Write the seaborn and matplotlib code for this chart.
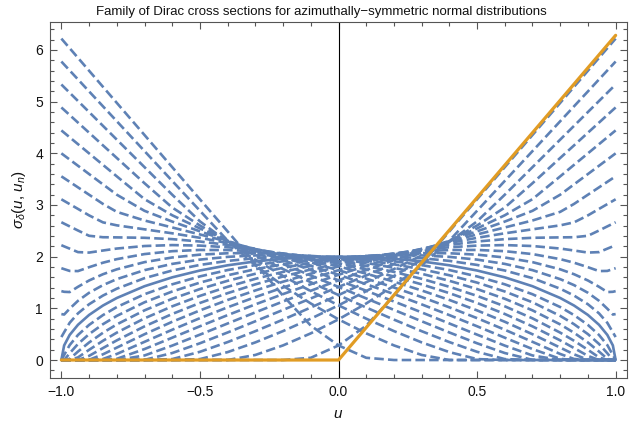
import numpy as np
import pandas as pd
import matplotlib
matplotlib.use("Agg")
import matplotlib.pyplot as plt
from matplotlib.ticker import MultipleLocator
import seaborn as sns

sns.set_theme(style="ticks")
plt.rcParams["font.family"] = ["Liberation Sans", "DejaVu Sans"]
plt.rcParams["mathtext.fontset"] = "custom"
plt.rcParams["mathtext.rm"] = "Liberation Sans"
plt.rcParams["mathtext.it"] = "Liberation Sans:italic"

# common u grid (denser towards the ends)
u = [-1, -0.99, -0.97, -0.94, -0.9, -0.85, -0.8, -0.7, -0.6, -0.5, -0.4, -0.3, -0.2, -0.1, 0,
     0.1, 0.2, 0.3, 0.4, 0.5, 0.6, 0.7, 0.8, 0.85, 0.9, 0.94, 0.97, 0.99, 1]

# dashed family, u_n > 0 (u_n = 0.071 ... 0.99)
sig_p1 = [0, 0.097, 0.289, 0.485, 0.679, 0.869, 1.025, 1.273, 1.465, 1.618, 1.741, 1.837, 1.911, 1.963, 1.995, 2.007, 1.999, 1.970, 1.918, 1.840, 1.732, 1.584, 1.380, 1.247, 1.079, 0.903, 0.720, 0.537, 0.444]
sig_p2 = [0, 0, 0.131, 0.311, 0.501, 0.693, 0.854, 1.117, 1.326, 1.498, 1.640, 1.757, 1.852, 1.926, 1.980, 2.015, 2.030, 2.024, 1.996, 1.943, 1.860, 1.739, 1.565, 1.449, 1.301, 1.146, 0.993, 0.880, 0.889]
sig_p3 = [0, 0, 0.022, 0.164, 0.339, 0.527, 0.689, 0.961, 1.185, 1.373, 1.533, 1.669, 1.784, 1.879, 1.954, 2.012, 2.050, 2.069, 2.066, 2.039, 1.984, 1.894, 1.755, 1.660, 1.539, 1.417, 1.315, 1.320, 1.333]
sig_p4 = [0, 0, 0, 0.051, 0.197, 0.372, 0.530, 0.806, 1.039, 1.241, 1.417, 1.571, 1.705, 1.821, 1.918, 1.998, 2.061, 2.104, 2.128, 2.130, 2.106, 2.050, 1.952, 1.883, 1.796, 1.721, 1.724, 1.759, 1.777]
sig_p5 = [0, 0, 0, 0, 0.080, 0.231, 0.380, 0.651, 0.891, 1.104, 1.294, 1.464, 1.616, 1.752, 1.871, 1.974, 2.061, 2.131, 2.182, 2.214, 2.224, 2.206, 2.157, 2.119, 2.079, 2.088, 2.155, 2.199, 2.222]
sig_p6 = [0, 0, 0, 0, 0.004, 0.110, 0.240, 0.499, 0.740, 0.960, 1.162, 1.346, 1.516, 1.671, 1.811, 1.937, 2.049, 2.146, 2.228, 2.293, 2.339, 2.365, 2.373, 2.376, 2.404, 2.506, 2.586, 2.639, 2.666]
sig_p7 = [0, 0, 0, 0, 0, 0.020, 0.117, 0.352, 0.586, 0.810, 1.020, 1.218, 1.403, 1.576, 1.738, 1.887, 2.025, 2.151, 2.264, 2.365, 2.452, 2.529, 2.606, 2.664, 2.799, 2.924, 3.017, 3.079, 3.110]
sig_p8 = [0, 0, 0, 0, 0, 0, 0.023, 0.212, 0.432, 0.653, 0.869, 1.077, 1.276, 1.467, 1.649, 1.823, 1.987, 2.143, 2.291, 2.430, 2.565, 2.700, 2.867, 3.021, 3.199, 3.341, 3.448, 3.519, 3.554]
sig_p9 = [0, 0, 0, 0, 0, 0, 0, 0.088, 0.279, 0.491, 0.707, 0.922, 1.133, 1.340, 1.543, 1.740, 1.933, 2.121, 2.306, 2.490, 2.679, 2.887, 3.199, 3.399, 3.599, 3.759, 3.879, 3.959, 3.999]
sig_p10 = [0, 0, 0, 0, 0, 0, 0, 0.003, 0.135, 0.324, 0.533, 0.750, 0.970, 1.192, 1.414, 1.636, 1.859, 2.083, 2.310, 2.546, 2.801, 3.113, 3.554, 3.777, 3.999, 4.177, 4.310, 4.399, 4.443]
sig_p11 = [0, 0, 0, 0, 0, 0, 0, 0, 0.018, 0.159, 0.347, 0.558, 0.782, 1.016, 1.257, 1.505, 1.760, 2.024, 2.302, 2.603, 2.951, 3.421, 3.910, 4.154, 4.399, 4.594, 4.741, 4.839, 4.887]
sig_p12 = [0, 0, 0, 0, 0, 0, 0, 0, 0, 0.018, 0.153, 0.341, 0.560, 0.800, 1.058, 1.333, 1.626, 1.941, 2.285, 2.683, 3.199, 3.732, 4.265, 4.532, 4.799, 5.012, 5.172, 5.278, 5.332]
sig_p13 = [0, 0, 0, 0, 0, 0, 0, 0, 0, 0, 0, 0.098, 0.283, 0.516, 0.787, 1.094, 1.438, 1.831, 2.310, 2.888, 3.466, 4.043, 4.621, 4.910, 5.198, 5.430, 5.603, 5.718, 5.776]
sig_p14 = [0, 0, 0, 0, 0, 0, 0, 0, 0, 0, 0, 0, 0, 0.043, 0.282, 0.665, 1.244, 1.866, 2.488, 3.110, 3.732, 4.354, 4.976, 5.287, 5.598, 5.847, 6.034, 6.158, 6.220]

# dashed family, u_n < 0 (u_n = -0.071 ... -0.99)
sig_m1 = [0.444, 0.537, 0.720, 0.903, 1.079, 1.247, 1.380, 1.584, 1.732, 1.840, 1.918, 1.970, 1.999, 2.007, 1.995, 1.963, 1.911, 1.837, 1.741, 1.618, 1.465, 1.273, 1.025, 0.869, 0.679, 0.485, 0.289, 0.097, 0]
sig_m2 = [0.889, 0.880, 0.993, 1.146, 1.301, 1.449, 1.565, 1.739, 1.860, 1.943, 1.996, 2.024, 2.030, 2.015, 1.980, 1.926, 1.852, 1.757, 1.640, 1.498, 1.326, 1.117, 0.854, 0.693, 0.501, 0.311, 0.131, 0, 0]
sig_m3 = [1.333, 1.320, 1.315, 1.417, 1.539, 1.660, 1.755, 1.894, 1.984, 2.039, 2.066, 2.069, 2.050, 2.012, 1.954, 1.879, 1.784, 1.669, 1.533, 1.373, 1.185, 0.961, 0.689, 0.527, 0.339, 0.164, 0.022, 0, 0]
sig_m4 = [1.777, 1.759, 1.724, 1.721, 1.796, 1.883, 1.952, 2.050, 2.106, 2.130, 2.128, 2.104, 2.061, 1.998, 1.918, 1.821, 1.705, 1.571, 1.417, 1.241, 1.039, 0.806, 0.530, 0.372, 0.197, 0.051, 0, 0, 0]
sig_m5 = [2.222, 2.199, 2.155, 2.088, 2.079, 2.119, 2.157, 2.206, 2.224, 2.214, 2.182, 2.131, 2.061, 1.974, 1.871, 1.752, 1.616, 1.464, 1.294, 1.104, 0.891, 0.651, 0.380, 0.231, 0.080, 0, 0, 0, 0]
sig_m6 = [2.666, 2.639, 2.586, 2.506, 2.404, 2.376, 2.373, 2.365, 2.339, 2.293, 2.228, 2.146, 2.049, 1.937, 1.811, 1.671, 1.516, 1.346, 1.162, 0.960, 0.740, 0.499, 0.240, 0.110, 0.004, 0, 0, 0, 0]
sig_m7 = [3.110, 3.079, 3.017, 2.924, 2.799, 2.664, 2.606, 2.529, 2.452, 2.365, 2.264, 2.151, 2.025, 1.887, 1.738, 1.576, 1.403, 1.218, 1.020, 0.810, 0.586, 0.352, 0.117, 0.020, 0, 0, 0, 0, 0]
sig_m8 = [3.554, 3.519, 3.448, 3.341, 3.199, 3.021, 2.867, 2.700, 2.565, 2.430, 2.291, 2.143, 1.987, 1.823, 1.649, 1.467, 1.276, 1.077, 0.869, 0.653, 0.432, 0.212, 0.023, 0, 0, 0, 0, 0, 0]
sig_m9 = [3.999, 3.959, 3.879, 3.759, 3.599, 3.399, 3.199, 2.887, 2.679, 2.490, 2.306, 2.121, 1.933, 1.740, 1.543, 1.340, 1.133, 0.922, 0.707, 0.491, 0.279, 0.088, 0, 0, 0, 0, 0, 0, 0]
sig_m10 = [4.443, 4.399, 4.310, 4.177, 3.999, 3.777, 3.554, 3.113, 2.801, 2.546, 2.310, 2.083, 1.859, 1.636, 1.414, 1.192, 0.970, 0.750, 0.533, 0.324, 0.135, 0.003, 0, 0, 0, 0, 0, 0, 0]
sig_m11 = [4.887, 4.839, 4.741, 4.594, 4.399, 4.154, 3.910, 3.421, 2.951, 2.603, 2.302, 2.024, 1.760, 1.505, 1.257, 1.016, 0.782, 0.558, 0.347, 0.159, 0.018, 0, 0, 0, 0, 0, 0, 0, 0]
sig_m12 = [5.332, 5.278, 5.172, 5.012, 4.799, 4.532, 4.265, 3.732, 3.199, 2.683, 2.285, 1.941, 1.626, 1.333, 1.058, 0.800, 0.560, 0.341, 0.153, 0.018, 0, 0, 0, 0, 0, 0, 0, 0, 0]
sig_m13 = [5.776, 5.718, 5.603, 5.430, 5.198, 4.910, 4.621, 4.043, 3.466, 2.888, 2.310, 1.831, 1.438, 1.094, 0.787, 0.516, 0.283, 0.098, 0, 0, 0, 0, 0, 0, 0, 0, 0, 0, 0]
sig_m14 = [6.220, 6.158, 6.034, 5.847, 5.598, 5.287, 4.976, 4.354, 3.732, 3.110, 2.488, 1.866, 1.244, 0.665, 0.282, 0.043, 0, 0, 0, 0, 0, 0, 0, 0, 0, 0, 0, 0, 0]

# solid curve (u_n = 0)
sig_zero = [0, 0.282, 0.486, 0.682, 0.872, 1.054, 1.200, 1.428, 1.600, 1.732, 1.833, 1.908, 1.960, 1.990, 2.000, 1.990, 1.960, 1.908, 1.833, 1.732, 1.600, 1.428, 1.200, 1.054, 0.872, 0.682, 0.486, 0.282, 0]

# orange curve (u_n = 1)
u_one = [-1, 0, 1]
sig_one = [0, 0, 6.283]

dashed = [sig_m14, sig_m13, sig_m12, sig_m11, sig_m10, sig_m9, sig_m8, sig_m7, sig_m6, sig_m5, sig_m4,
          sig_m3, sig_m2, sig_m1, sig_p1, sig_p2, sig_p3, sig_p4, sig_p5, sig_p6, sig_p7, sig_p8,
          sig_p9, sig_p10, sig_p11, sig_p12, sig_p13, sig_p14]

blue = "#5E81B5"
orange = "#E19C24"
frame = "#555555"

fig = plt.figure(figsize=(6.42, 4.28), dpi=100)
ax = fig.add_axes([50 / 642, 50 / 428, 577 / 642, 356 / 428])

ax.axvline(0, color="black", lw=0.8, zorder=1.5)

for s in dashed:
    sns.lineplot(x=u, y=s, ax=ax, color=blue, lw=1.9, linestyle=(0, (3.6, 1.6)),
                 dash_capstyle="butt", zorder=2)
sns.lineplot(x=u, y=sig_zero, ax=ax, color=blue, lw=1.9, zorder=3)
sns.lineplot(x=u_one, y=sig_one, ax=ax, color=orange, lw=2.3, zorder=4)

ax.set_xlim(-1.041, 1.041)
ax.set_ylim(-0.348, 6.541)
ax.xaxis.set_major_locator(MultipleLocator(0.5))
ax.xaxis.set_minor_locator(MultipleLocator(0.1))
ax.yaxis.set_major_locator(MultipleLocator(1))
ax.yaxis.set_minor_locator(MultipleLocator(0.2))
ax.tick_params(which="both", direction="in", top=True, right=True, color=frame,
               width=0.8, labelsize=10, labelcolor="#111111")
ax.tick_params(which="major", length=5)
ax.tick_params(which="minor", length=2.8)
ax.tick_params(axis="x", pad=5)
ax.tick_params(axis="y", pad=5)
for sp in ax.spines.values():
    sp.set_color(frame)
    sp.set_linewidth(0.8)

ax.set_xlabel(r"$u$", fontsize=11, labelpad=6, color="#111111")
ax.set_ylabel(r"$\sigma_{\delta}(u,\,u_{n})$", fontsize=11, labelpad=5, color="#111111")
fig.suptitle("Family of Dirac cross sections for azimuthally\u2212symmetric normal distributions",
             x=0.5, y=1 - 12.5 / 428, va="center", fontsize=9.5, color="#111111")

fig.savefig("out.png", dpi=100)
